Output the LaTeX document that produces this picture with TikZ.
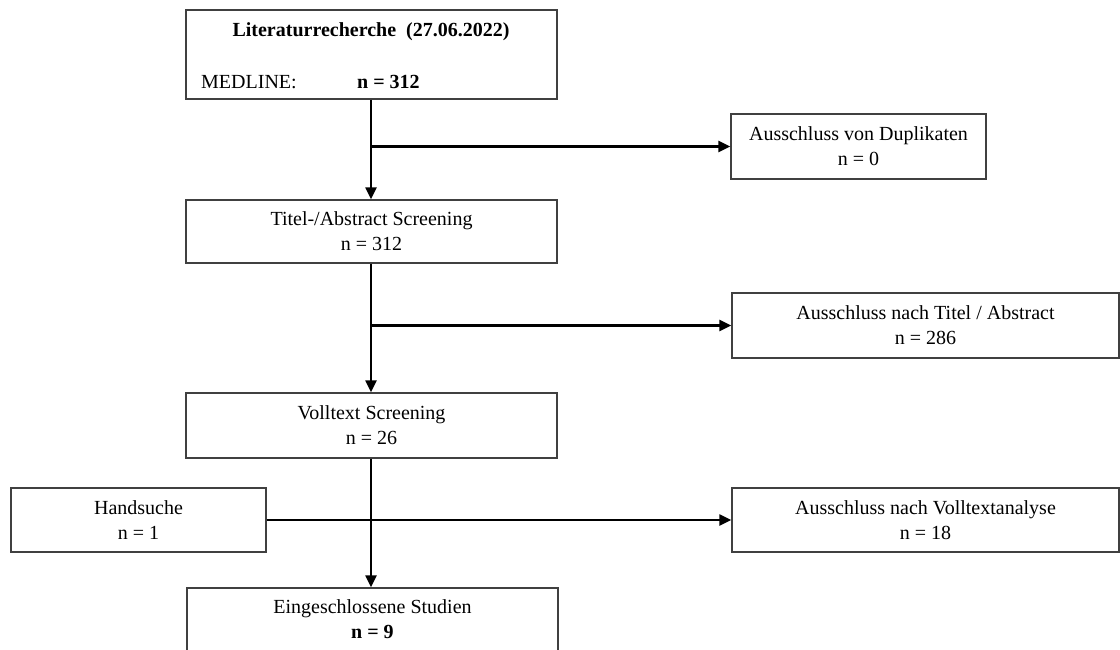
\documentclass[tikz,border=0pt]{standalone}
\usepackage{fontspec}
\setmainfont{Liberation Serif}
\usetikzlibrary{arrows.meta}
\begin{document}
\begin{tikzpicture}[x=1pt,y=-1pt,
  box/.style={draw=black!75,line width=1.3pt,rectangle,inner sep=0pt,align=center,
    font=\fontsize{20}{25}\selectfont},
  txt/.style={inner sep=0pt,font=\fontsize{20}{25}\selectfont},
  conn/.style={line width=2.2pt,black},
  arr/.style={conn,-{Triangle[width=11pt,length=12pt]}}]
\useasboundingbox (0,0) rectangle (1120,650);
% boxes
\node[box,minimum width=371pt,minimum height=89pt] (top) at (371.5,54.5) {};
\node[txt,font=\fontsize{20}{25}\selectfont\bfseries] (toptitle) at (371,32) {Literaturrecherche\ \ (27.06.2022)};
\node[txt,anchor=west] (medl) at (201,82) {MEDLINE:};
\node[txt,anchor=west,font=\fontsize{20}{25}\selectfont\bfseries] (medn) at (357,82) {n = 312};
\node[box,minimum width=255pt,minimum height=65pt] (dup) at (858.5,146.5) {Ausschluss von Duplikaten\\n = 0};
\node[box,minimum width=371pt,minimum height=63pt] (tas) at (371.5,231.5) {Titel-/Abstract Screening\\n = 312};
\node[box,minimum width=387pt,minimum height=65pt] (aust) at (925.5,325.5) {Ausschluss nach Titel / Abstract\\n = 286};
\node[box,minimum width=371pt,minimum height=65pt] (vts) at (371.5,425.5) {Volltext Screening\\n = 26};
\node[box,minimum width=255pt,minimum height=64pt] (hand) at (138.5,520) {Handsuche\\n = 1};
\node[box,minimum width=387pt,minimum height=64pt] (ausv) at (925.5,520) {Ausschluss nach Volltextanalyse\\n = 18};
\node[box,minimum width=371pt,minimum height=63pt] (ein) at (372.5,619.5) {Eingeschlossene Studien\\\textbf{n = 9}};
% connectors
\coordinate (j1) at (371,146.5);
\coordinate (j2) at (371,325.5);
\draw[arr] (371,0 |- top.south) -- (371,0 |- tas.north);
\draw[arr] (j1) -- (dup.west);
\draw[arr] (371,0 |- tas.south) -- (371,0 |- vts.north);
\draw[arr] (j2) -- (aust.west);
\draw[arr] (371,0 |- vts.south) -- (371,0 |- ein.north);
\draw[arr] (hand.east) -- (ausv.west);
\end{tikzpicture}
\end{document}
